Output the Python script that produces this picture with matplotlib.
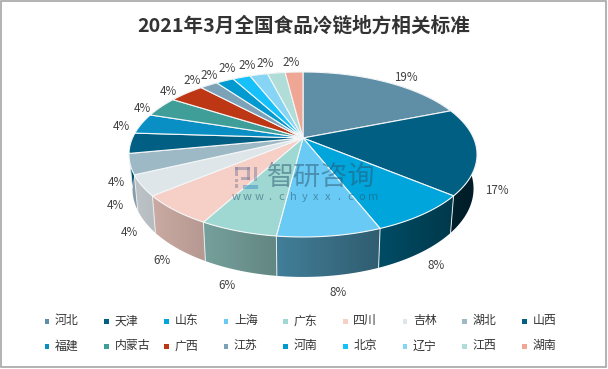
import numpy as np
import matplotlib
matplotlib.use("Agg")
import matplotlib.pyplot as plt
from matplotlib.patches import Polygon, Rectangle

plt.rcParams['font.family'] = ['Noto Sans CJK SC', 'DejaVu Sans']

TITLE = "2021年3月全国食品冷链地方相关标准"
categories = ["河北", "天津", "山东", "上海", "广东", "四川", "吉林", "湖北", "山西",
              "福建", "内蒙古", "广西", "江苏", "河南", "北京", "辽宁", "江西", "湖南"]
values = [19, 17, 8, 8, 6, 6, 4, 4, 4, 4, 4, 4, 2, 2, 2, 2, 2, 2]
colors = ["#5F8FA6", "#005F82", "#00A5DC", "#69CBF5", "#9FD8D2", "#F6CFC6", "#DEE6EA", "#9DB9C6", "#005F82",
          "#0A8FC4", "#3F9E98", "#BE3714", "#7BA2B6", "#0099D0", "#16C0FA", "#87D5F5", "#B1DDD8", "#F0A695"]
label_nudges = [(10, 3), (8, 5), (3, 4), (6, 5), (-5, 4), (-1, 4), (0, 5), (-2, 4), (-2, 6),
                (5, 5), (2, 6), (-2, 5), (-4, 3), (-5, 2), (-6, -1), (-6, -1), (-8, -1), (-2, -1)]

W, H = 608, 369
fig = plt.figure(figsize=(W / 100, H / 100), dpi=100)
ax = fig.add_axes([0, 0, 1, 1])
ax.axis("off")
ax.add_patch(Rectangle((1, 1), 605, 366, fc="white", ec="#A6A6A6", lw=1.2))

CX, CY, A, B, P = 303.0, 138.0, 79.2, 170.5, 0.2

def top(theta, r=1.0):
    u, v = r * np.sin(theta), r * np.cos(theta)
    w = 1 + P * v
    return CX + B * u / w, CY - A * v / w

def low(theta, r=1.0):
    x, y = top(theta, r)
    return CX + 0.98 * (x - CX), CY + 1.07 * (y - CY) + 33

def shade(x):
    return np.clip(0.85 - (x - 135) * 0.0016, 0.2, 1)

fracs = np.array(values, float) / sum(values)
edges = np.concatenate([[0], np.cumsum(fracs)]) * 2 * np.pi

# side walls: horizontal gradient, clipped to each wall's outline
for i, c in enumerate(colors):
    ts = np.linspace(edges[i], edges[i + 1], max(8, values[i] * 8))
    up = [top(t) for t in ts]
    dn = [low(t) for t in ts[::-1]]
    outline = up + dn
    xs = np.array([q[0] for q in outline])
    ys = np.array([q[1] for q in outline])
    x0, x1 = xs.min() - 1, xs.max() + 1
    y0, y1 = ys.min() - 1, ys.max() + 1
    gx = np.linspace(x0, x1, 64)
    grad = (np.array(matplotlib.colors.to_rgb(c))[None, None, :] * shade(gx)[None, :, None])
    im = ax.imshow(grad, extent=(x0, x1, y1, y0), aspect="auto", interpolation="bilinear", zorder=2)
    im.set_clip_path(Polygon(outline, closed=True, transform=ax.transData))

ax.set_xlim(0, W)
ax.set_ylim(H, 0)

# side separators
for i in range(len(values)):
    t = edges[i]
    if np.cos(t) < 0.1:
        x0, y0 = top(t)
        x1, y1 = low(t)
        ax.plot([x0, x1], [y0, y1], color="#E8EEF0", lw=0.7, zorder=3)

# top faces
for i, c in enumerate(colors):
    ts = np.linspace(edges[i], edges[i + 1], max(6, values[i] * 8))
    pts = [(CX, CY)] + [top(t) for t in ts]
    ax.add_patch(Polygon(pts, closed=True, fc=c, ec="#F4F7F8", lw=0.8, joinstyle="round", zorder=4))

# value labels
for i, v in enumerate(values):
    m = (edges[i] + edges[i + 1]) / 2
    x, y = top(m, 1.16) if np.cos(m) > -0.05 else low(m, 1.09)
    dx, dy = label_nudges[i]
    ax.text(x + dx, y + dy, f"{v}%", fontsize=8.4, color="#404040", ha="center", va="center", zorder=6)

# title
ax.text(304, 25.5, TITLE, fontsize=14.1, fontweight="bold", color="#333333", ha="center", va="center", zorder=6)

# legend
for i, name in enumerate(categories):
    col, row = i % 9, i // 9
    x = 47 + col * 59.67
    y = 321.3 + row * 25
    ax.add_patch(Rectangle((x - 2.2, y - 2.2), 4.4, 4.4, fc=colors[i], ec="none", zorder=6))
    ax.text(x + 8, y - 0.5, name, fontsize=8.6, color="#333333", ha="left", va="center", zorder=6)

# watermark
LOGO_GREY = "#7F7F9E"
LOGO_BLUE = "#3F8FC8"
for (x, y, w, h, c) in [(235, 167, 15, 3.2, LOGO_GREY), (235, 167, 3.2, 9, LOGO_GREY), (235, 178.5, 3.2, 3, LOGO_GREY),
                        (235, 184, 3.2, 3.5, LOGO_GREY), (247, 167, 3.2, 13, LOGO_GREY), (241, 177, 9, 3.2, LOGO_GREY),
                        (253.5, 167, 3.8, 14, LOGO_GREY), (243, 185, 15, 3.6, LOGO_BLUE)]:
    ax.add_patch(Rectangle((x, y), w, h, fc=c, ec="none", alpha=0.5, zorder=7))
ax.text(321, 177, "智研咨询", fontsize=19.5, color="#2A5670", alpha=0.5, ha="center", va="center", zorder=7)
for k, ch in enumerate("www.chyxx.com"):
    ax.text(236 + k * 11.4, 197, ch, fontsize=8, color="#2A5670", alpha=0.55, ha="center", va="center", zorder=7)

fig.savefig("out.png", dpi=100)
